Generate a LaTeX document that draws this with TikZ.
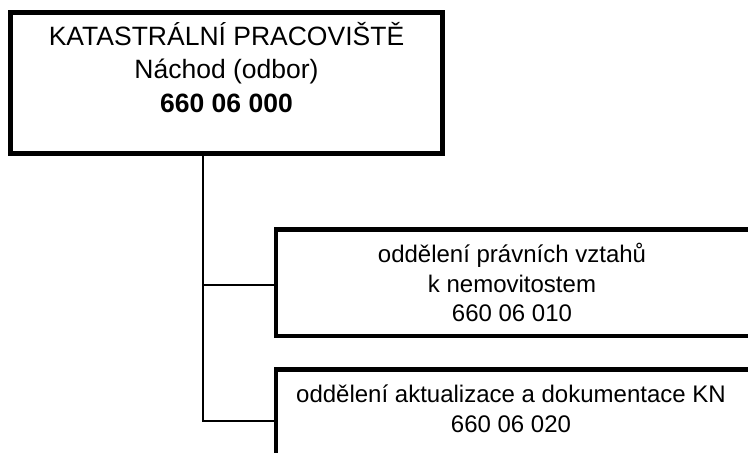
\documentclass[tikz,border=0pt]{standalone}
\usepackage{fontspec}
\setmainfont{Liberation Sans}
\begin{document}
\begin{tikzpicture}[x=1pt,y=-1pt,
  orgbox/.style={draw=black, fill=white, rectangle, inner sep=0pt, line width=#1},
  orgbox/.default=4.5pt,
  bigtext/.style={anchor=base, inner sep=0pt, font=\fontsize{26.5}{31}\selectfont},
  smalltext/.style={anchor=base, inner sep=0pt, font=\fontsize{24}{28}\selectfont},
  conn/.style={draw=black, line width=1.5pt}]
\useasboundingbox (0,0) rectangle (748,453);
\clip (0,0) rectangle (748,453);
% boxes
\node[orgbox=5pt, minimum width=432pt, minimum height=141pt] (kp) at (226.5,83) {};
\node[orgbox, minimum width=489.25pt, minimum height=106.5pt] (b2) at (520.4,282.5) {};
\node[orgbox, minimum width=489.25pt, minimum height=85.5pt] (b3) at (520.4,412.25) {};
% texts
\node[bigtext] (kp1) at (226.5,45) {KATASTRÁLNÍ PRACOVIŠTĚ};
\node[bigtext, font=\fontsize{26.5}{31}\selectfont] (kp2) at (226.5,78) {Náchod (odbor)};
\node[bigtext, font=\fontsize{26.5}{31}\selectfont\bfseries] (kp3) at (226.5,112) {660 06 000};
\node[smalltext] (b21) at (512,262) {oddělení právních vztahů};
\node[smalltext] (b22) at (512,292) {k nemovitostem};
\node[smalltext] (b23) at (512,321) {660 06 010};
\node[smalltext] (b31) at (511,402) {oddělení aktualizace a dokumentace KN};
\node[smalltext] (b32) at (511,432) {660 06 020};
% connectors
\coordinate (j2) at (203,285);
\coordinate (j3) at (203,421);
\draw[conn] (kp.south -| j2) -- (j3) -- (b3.west |- j3);
\draw[conn] (j2) -- (b2.west |- j2);
\end{tikzpicture}
\end{document}
